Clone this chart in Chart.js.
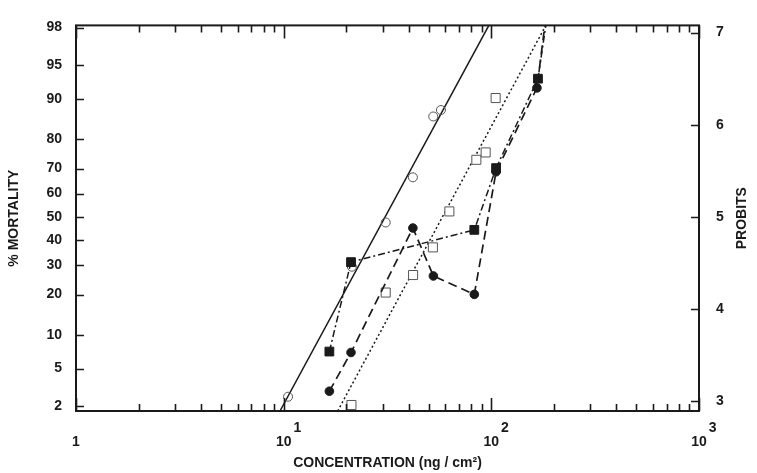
<!DOCTYPE html>
<html>
<head>
<meta charset="utf-8">
<script src="https://cdn.jsdelivr.net/npm/chart.js@4.4.1/dist/chart.umd.min.js"></script>
<style>
    body { margin: 0; background: #fff; }
    #wrap { width: 757px; height: 473px; }
</style>
</head>
<body>
<div id="wrap"><canvas id="myChart"></canvas></div>
<script>
// concentration in ng/cm2, response in probits
var openCircleConc = [10.5, 21.3, 31, 41.9, 52.5, 57.2];
var openCircleProbit = [3.05, 4.46, 4.94, 5.43, 6.09, 6.16];
var solidFitConc = [9.6, 97.3];
var solidFitProbit = [2.895, 7.078];

var openSquareConc = [21.2, 31, 42, 52.3, 62.8, 84.7, 93.9, 104.9];
var openSquareProbit = [2.96, 4.18, 4.37, 4.67, 5.06, 5.62, 5.70, 6.29];
var dottedFitConc = [18.2, 183];
var dottedFitProbit = [2.895, 7.078];

var filledCircleConc = [16.6, 21.1, 41.9, 52.6, 82.8, 105.4, 165.8, 181];
var filledCircleProbit = [3.11, 3.53, 4.88, 4.36, 4.16, 5.49, 6.40, 7.078];

var filledSquareConc = [16.6, 21.1, 82.8, 105.4, 167.7, 183];
var filledSquareProbit = [3.54, 4.51, 4.86, 5.53, 6.50, 7.078];

var pctTicks = [2, 5, 10, 20, 30, 40, 50, 60, 70, 80, 90, 95, 98];
var probitTicks = [3, 4, 5, 6, 7];
var concTicks = [1, 2, 3, 4, 5, 6, 7, 8, 9, 10, 20, 30, 40, 50, 60, 70, 80, 90,
    100, 200, 300, 400, 500, 600, 700, 800, 900, 1000];
// first line is the exponent, pushed right of the "10"
var decadeLabels = {
    1: ['', '1'],
    10: ['       1', '10'],
    100: ['       2', '10'],
    1000: ['       3', '10']
};

var ink = '#1a1a1a';
var fontFam = '"Liberation Sans", Arial, sans-serif';

// inverse normal (Acklam) - only used to place the % mortality ticks
function normInv(p) {
    var a = [-3.969683028665376e+01, 2.209460984245205e+02, -2.759285104469687e+02, 1.383577518672690e+02, -3.066479806614716e+01, 2.506628277459239e+00];
    var b = [-5.447609879822406e+01, 1.615858368580409e+02, -1.556989798598866e+02, 6.680131188771972e+01, -1.328068155288572e+01];
    var c = [-7.784894002430293e-03, -3.223964580411365e-01, -2.400758277161838e+00, -2.549671348000014e+00, 4.374664141464968e+00, 2.938163982698783e+00];
    var d = [7.784695709041462e-03, 3.224671290700398e-01, 2.445134137142996e+00, 3.754408661907416e+00];
    var plow = 0.02425, q, r;
    if (p < plow) {
        q = Math.sqrt(-2 * Math.log(p));
        return (((((c[0] * q + c[1]) * q + c[2]) * q + c[3]) * q + c[4]) * q + c[5]) / ((((d[0] * q + d[1]) * q + d[2]) * q + d[3]) * q + 1);
    }
    if (p > 1 - plow) {
        q = Math.sqrt(-2 * Math.log(1 - p));
        return -(((((c[0] * q + c[1]) * q + c[2]) * q + c[3]) * q + c[4]) * q + c[5]) / ((((d[0] * q + d[1]) * q + d[2]) * q + d[3]) * q + 1);
    }
    q = p - 0.5;
    r = q * q;
    return (((((a[0] * r + a[1]) * r + a[2]) * r + a[3]) * r + a[4]) * r + a[5]) * q / (((((b[0] * r + b[1]) * r + b[2]) * r + b[3]) * r + b[4]) * r + 1);
}
function probit(pct) {
    return 5 + normInv(pct / 100);
}

function pts(xs, ys) {
    return xs.map(function (x, i) {
        return { x: x, y: ys[i] };
    });
}

// frame, inward tick marks and the right-hand title
var frameTicks = {
    id: 'frameTicks',
    afterDraw: function (chart) {
        var ctx = chart.ctx;
        var a = chart.chartArea;
        var xs = chart.scales.x, yl = chart.scales.y, yr = chart.scales.y2;
        ctx.save();
        ctx.strokeStyle = ink;
        ctx.lineWidth = 1.6;
        ctx.beginPath();
        xs.ticks.forEach(function (t) {
            var px = Math.round(xs.getPixelForValue(t.value)) + 0.5;
            var len = decadeLabels[t.value] ? 13 : 7;
            ctx.moveTo(px, a.bottom);
            ctx.lineTo(px, a.bottom - len);
            ctx.moveTo(px, a.top);
            ctx.lineTo(px, a.top + len);
        });
        yl.ticks.forEach(function (t) {
            var py = Math.round(yl.getPixelForValue(t.value)) + 0.5;
            ctx.moveTo(a.left, py);
            ctx.lineTo(a.left + 8, py);
        });
        yr.ticks.forEach(function (t) {
            var py = Math.round(yr.getPixelForValue(t.value)) + 0.5;
            ctx.moveTo(a.right, py);
            ctx.lineTo(a.right - 8, py);
        });
        ctx.stroke();
        ctx.lineWidth = 2;
        ctx.strokeRect(a.left, a.top, a.right - a.left, a.bottom - a.top);

        ctx.translate(a.right + 43, (a.top + a.bottom) / 2);
        ctx.rotate(-Math.PI / 2);
        ctx.font = 'bold 14px ' + fontFam;
        ctx.textAlign = 'center';
        ctx.textBaseline = 'middle';
        ctx.fillStyle = ink;
        ctx.fillText('PROBITS', 0, 0);
        ctx.restore();
    }
};

var ctx = document.getElementById('myChart').getContext('2d');
var chart = new Chart(ctx, {
    type: 'scatter',
    data: {
        datasets: [{
            // filled squares, dash-dot
            data: pts(filledSquareConc, filledSquareProbit),
            showLine: true,
            borderColor: ink,
            borderWidth: 1.5,
            borderDash: [7, 3, 2, 3],
            pointStyle: 'rect',
            pointRadius: [6.2, 6.2, 6.2, 6.2, 6.2, 0],
            pointBackgroundColor: ink,
            pointBorderColor: ink,
            pointBorderWidth: 1,
            order: 1
        }, {
            // filled circles, dashed
            data: pts(filledCircleConc, filledCircleProbit),
            showLine: true,
            borderColor: ink,
            borderWidth: 1.7,
            borderDash: [9, 5],
            pointStyle: 'circle',
            pointRadius: [4.3, 4.3, 4.3, 4.3, 4.3, 4.3, 4.3, 0],
            pointBackgroundColor: ink,
            pointBorderColor: ink,
            pointBorderWidth: 1,
            order: 2
        }, {
            // open squares
            data: pts(openSquareConc, openSquareProbit),
            showLine: false,
            pointStyle: 'rect',
            pointRadius: 6.4,
            pointBackgroundColor: '#fff',
            pointBorderColor: '#555',
            pointBorderWidth: 1,
            order: 3
        }, {
            // open circles
            data: pts(openCircleConc, openCircleProbit),
            showLine: false,
            pointStyle: 'circle',
            pointRadius: 4.5,
            pointBackgroundColor: 'rgba(255,255,255,0)',
            pointBorderColor: '#555',
            pointBorderWidth: 1,
            order: 4
        }, {
            // fit through open circles
            data: pts(solidFitConc, solidFitProbit),
            showLine: true,
            borderColor: ink,
            borderWidth: 1.5,
            pointRadius: 0,
            order: 5
        }, {
            // fit through open squares
            data: pts(dottedFitConc, dottedFitProbit),
            showLine: true,
            borderColor: ink,
            borderWidth: 1.5,
            borderDash: [2, 2.5],
            pointRadius: 0,
            order: 6
        }]
    },
    options: {
        responsive: true,
        maintainAspectRatio: false,
        animation: false,
        clip: 0,
        layout: { padding: { top: 11, left: 0, right: 0, bottom: 0 } },
        plugins: {
            legend: { display: false },
            tooltip: { enabled: false }
        },
        scales: {
            x: {
                type: 'logarithmic',
                position: 'bottom',
                min: 1,
                max: 1000,
                grid: { display: false, drawTicks: false },
                border: { display: false },
                afterBuildTicks: function (s) {
                    s.ticks = concTicks.map(function (v) { return { value: v }; });
                },
                afterFit: function (s) { s.height = 62; },
                ticks: {
                    autoSkip: false,
                    maxRotation: 0,
                    padding: 10,
                    color: ink,
                    font: { family: fontFam, size: 14, weight: 'bold', lineHeight: 1 },
                    callback: function (value) {
                        return decadeLabels[value] || '';
                    }
                },
                title: {
                    display: true,
                    text: 'CONCENTRATION (ng / cm²)',
                    color: ink,
                    font: { family: fontFam, size: 14, weight: 'bold' },
                    padding: { top: 0, bottom: 1 }
                }
            },
            y: {
                type: 'linear',
                position: 'left',
                min: 2.895,
                max: 7.078,
                grid: { display: false, drawTicks: false },
                border: { display: false },
                afterBuildTicks: function (s) {
                    s.ticks = pctTicks.map(function (p) { return { value: probit(p) }; });
                },
                afterFit: function (s) { s.width = 76; },
                ticks: {
                    autoSkip: false,
                    padding: 14,
                    color: ink,
                    font: { family: fontFam, size: 14, weight: 'bold' },
                    callback: function (value, index) {
                        return pctTicks[index];
                    }
                },
                title: {
                    display: true,
                    text: '% MORTALITY',
                    color: ink,
                    font: { family: fontFam, size: 14, weight: 'bold' },
                    padding: { top: 6, bottom: 0 }
                }
            },
            y2: {
                type: 'linear',
                position: 'right',
                min: 2.895,
                max: 7.078,
                grid: { display: false, drawTicks: false },
                border: { display: false },
                afterBuildTicks: function (s) {
                    s.ticks = probitTicks.map(function (v) { return { value: v }; });
                },
                afterFit: function (s) { s.width = 58; },
                ticks: {
                    autoSkip: false,
                    padding: 17,
                    color: ink,
                    font: { family: fontFam, size: 14, weight: 'bold' },
                    callback: function (value) {
                        return value;
                    }
                }
            }
        }
    },
    plugins: [frameTicks]
});
</script>
</body>
</html>
